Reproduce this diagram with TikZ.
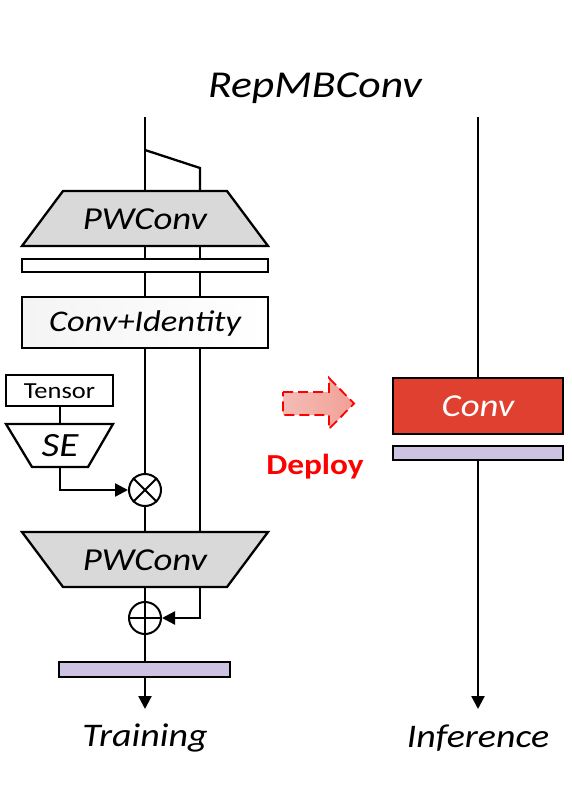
\documentclass[tikz,border=0pt]{standalone}
\usepackage{fontspec}
\setmainfont[FakeStretch=1.15]{Carlito}
\usetikzlibrary{arrows.meta}
\definecolor{pwgray}{RGB}{217,217,217}
\definecolor{boxgray}{RGB}{244,244,244}
\definecolor{lav}{RGB}{206,194,226}
\definecolor{convred}{RGB}{224,64,48}
\definecolor{deployred}{RGB}{255,0,0}
\definecolor{arrowpink}{RGB}{240,160,150}
\begin{document}
\begin{tikzpicture}[x=1pt,y=-1pt,
  ln/.style={line width=2.3pt,black},
  shp/.style={line width=2.3pt,draw=black},
  lbl/.style={inner sep=0pt,font=\fontsize{#1}{#1}\selectfont\itshape},
  tip/.style={-{Triangle[length=13pt,width=13pt]}},
  opcircle/.style={circle,draw=black,line width=2pt,fill=white,minimum size=32pt,inner sep=0pt}
]
\useasboundingbox (0,0) rectangle (571,808);

% title
\node[lbl=38] (title) at (315,88) {RepMBConv};

% ---------------- Training branch ----------------
\coordinate (inL) at (145,117);
\coordinate (brA) at (145,150);
\coordinate (brB) at (200,168);
\coordinate (pwAtop) at (145,191);
\coordinate (pwAtopR) at (200,191);
\coordinate (bottomL) at (145,532);
\coordinate (bottomR) at (200,532);
\coordinate (pwBbot) at (145,587);
\coordinate (pwBbotR) at (200,587);

\node[opcircle] (mul) at (145,490) {};
\node[opcircle] (add) at (145,618) {};
\coordinate (addR) at (200,618);

% vertical lines (behind shapes)
\draw[ln] (inL) -- (pwAtop);
\draw[ln] (brA) -- (brB) -- (pwAtopR);
\draw[ln] (pwAtop) -- (mul.north);
\draw[ln] (pwAtopR) -- (bottomR);
\draw[ln] (mul.south) -- (bottomL);

% top PWConv
\draw[shp,fill=pwgray] (63,191) -- (227,191) -- (268,246) -- (22,246) -- cycle;
\node[lbl=32] (pwA) at (145,219) {PWConv};

% white bar
\draw[shp,fill=white] (22,259) rectangle (268,272);
\node[inner sep=0pt] (wbar) at (145,265.5) {};

% Conv+Identity box
\draw[shp,left color=boxgray,right color=white] (22,297) rectangle (268,348);
\node[lbl=30] (convid) at (145,323) {Conv+Identity};

% Tensor box
\draw[shp,fill=white] (6,375) rectangle (113,406);
\node[inner sep=0pt,font=\fontsize{23}{23}\selectfont] (tensor) at (59.5,391) {Tensor};
\coordinate (tensorB) at (60,406);
\coordinate (seT) at (60,424);
\draw[ln] (tensorB) -- (seT);

% SE
\draw[shp,fill=white] (6,424) -- (113,424) -- (88,467) -- (32,467) -- cycle;
\node[lbl=34] (se) at (60,446) {SE};
\coordinate (seB) at (60,467);
\coordinate (seC) at (60,490);
\draw[ln,tip] (seB) -- (seC) -- (mul.west);
\draw[line width=2pt] (mul.north west) -- (mul.south east) (mul.north east) -- (mul.south west);

% bottom PWConv
\draw[shp,fill=pwgray] (22,532) -- (268,532) -- (227,587) -- (63,587) -- cycle;
\node[lbl=32] (pwB) at (145,560) {PWConv};

% add
\draw[ln] (pwBbot) -- (add.north);
\draw[ln,tip] (pwBbotR) -- (addR) -- (add.east);
\draw[line width=2pt] (add.north) -- (add.south) (add.west) -- (add.east);

% purple bar
\coordinate (lbarT) at (145,662);
\coordinate (lbarB) at (145,677);
\coordinate (outL) at (145,709);
\draw[ln] (add.south) -- (lbarT);
\draw[shp,fill=lav] (59,662) rectangle (230,677);
\draw[ln,tip] (lbarB) -- (outL);
\node[lbl=33] (training) at (145,738) {Training};

% ---------------- Deploy arrow ----------------
\draw[line width=1.8pt,draw=deployred,dash pattern=on 10pt off 5pt,left color=arrowpink!70,right color=arrowpink]
  (283,392) -- (329,392) -- (329,378) -- (354,403.5) -- (329,429) -- (329,415) -- (283,415) -- cycle;
\node[inner sep=0pt,font=\fontsize{29}{29}\selectfont\bfseries,text=deployred] (deploy) at (315,467) {Deploy};

% ---------------- Inference branch ----------------
\coordinate (inR) at (478,117);
\coordinate (convT) at (478,378);
\coordinate (rbarB) at (478,460);
\coordinate (outR) at (478,709);
\draw[ln] (inR) -- (convT);
\draw[ln,tip] (rbarB) -- (outR);
\draw[shp,fill=convred] (393,378) rectangle (563,434);
\node[lbl=32,text=white] (conv) at (478,406) {Conv};
\draw[shp,fill=lav] (393,446) rectangle (563,460);
\node[lbl=33] (inference) at (478,738) {Inference};
\end{tikzpicture}
\end{document}
